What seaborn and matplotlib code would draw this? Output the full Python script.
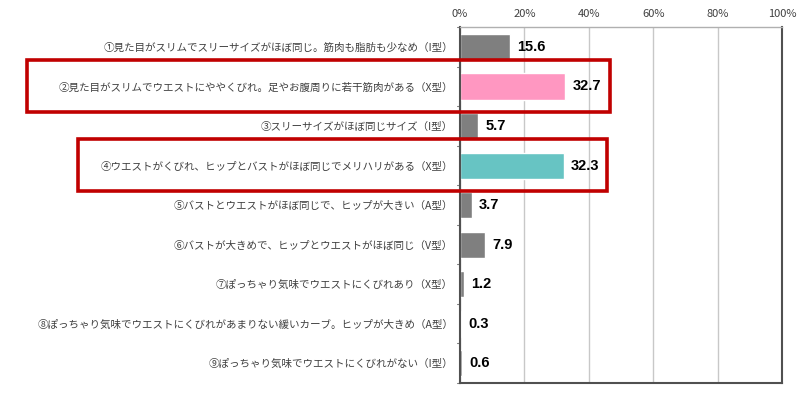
import matplotlib
matplotlib.use("Agg")
import matplotlib.pyplot as plt
import matplotlib.patches as mpatches
import seaborn as sns
import pandas as pd

# --- data ---
labels = [
    "①見た目がスリムでスリーサイズがほぼ同じ。筋肉も脂肪も少なめ（I型）",
    "②見た目がスリムでウエストにややくびれ。足やお腹周りに若干筋肉がある（X型）",
    "③スリーサイズがほぼ同じサイズ（I型）",
    "④ウエストがくびれ、ヒップとバストがほぼ同じでメリハリがある（X型）",
    "⑤バストとウエストがほぼ同じで、ヒップが大きい（A型）",
    "⑥バストが大きめで、ヒップとウエストがほぼ同じ（V型）",
    "⑦ぽっちゃり気味でウエストにくびれあり（X型）",
    "⑧ぽっちゃり気味でウエストにくびれがあまりない緩いカーブ。ヒップが大きめ（A型）",
    "⑨ぽっちゃり気味でウエストにくびれがない（I型）",
]
values = [15.6, 32.7, 5.7, 32.3, 3.7, 7.9, 1.2, 0.3, 0.6]
bar_colors = ["#7f7f7f", "#ff97c1", "#7f7f7f", "#67c4c3", "#7f7f7f",
              "#7f7f7f", "#7f7f7f", "#7f7f7f", "#7f7f7f"]
ticks = [0, 20, 40, 60, 80, 100]
highlight_rows = [1, 3]

df = pd.DataFrame({"label": labels, "value": values})

sns.set_style("white")
plt.rcParams["font.family"] = ["Noto Sans CJK JP", "DejaVu Sans"]

fig = plt.figure(figsize=(8, 3.94), dpi=100)
ax = fig.add_axes([0.575, 0.028, 0.4025, 0.903])

sns.barplot(data=df, x="value", y="label", hue="label", palette=bar_colors,
            legend=False, width=0.66, ax=ax, saturation=1)

ax.set_xlim(0, 100)
ax.set_xticks(ticks)
ax.set_xticklabels([f"{t}%" for t in ticks], fontsize=8, color="#404040")
ax.xaxis.tick_top()
ax.tick_params(axis="x", length=0, pad=6)
ax.set_xlabel("")
ax.set_ylabel("")
ax.tick_params(axis="y", length=0, pad=5)
for t in ax.get_yticklabels():
    t.set_fontsize(7.6)
    t.set_color("#404040")
ax.set_ylim(len(labels) - 0.5, -0.5)

ax.grid(axis="x", color="#c8c8c8", lw=1)
ax.set_axisbelow(True)
ax.spines["top"].set_color("#b0b0b0")
for s in ["left", "right", "bottom"]:
    ax.spines[s].set_color("#505050")
    ax.spines[s].set_linewidth(1.5)
ax.spines["top"].set_linewidth(1)

# small row-boundary ticks on left spine
for i in range(len(labels) + 1):
    ax.plot([-0.8, 0], [i - 0.5, i - 0.5], color="#808080", lw=0.8, clip_on=False)

# value labels
for i, v in enumerate(values):
    ax.text(v + 2.2, i, f"{v:.1f}", va="center", ha="left",
            fontsize=10.5, fontweight="bold", color="black",
            family=["Liberation Sans"])

# red highlight boxes
box_x = {1: (-134.5, 46.6), 3: (-118.6, 45.7)}
for r in highlight_rows:
    x0, x1 = box_x[r]
    rect = mpatches.Rectangle((x0, r - 0.67), x1 - x0, 1.32, fill=False,
                              edgecolor="#c00000", lw=2.6, clip_on=False, zorder=5)
    ax.add_patch(rect)

fig.savefig("out.png", dpi=100)
